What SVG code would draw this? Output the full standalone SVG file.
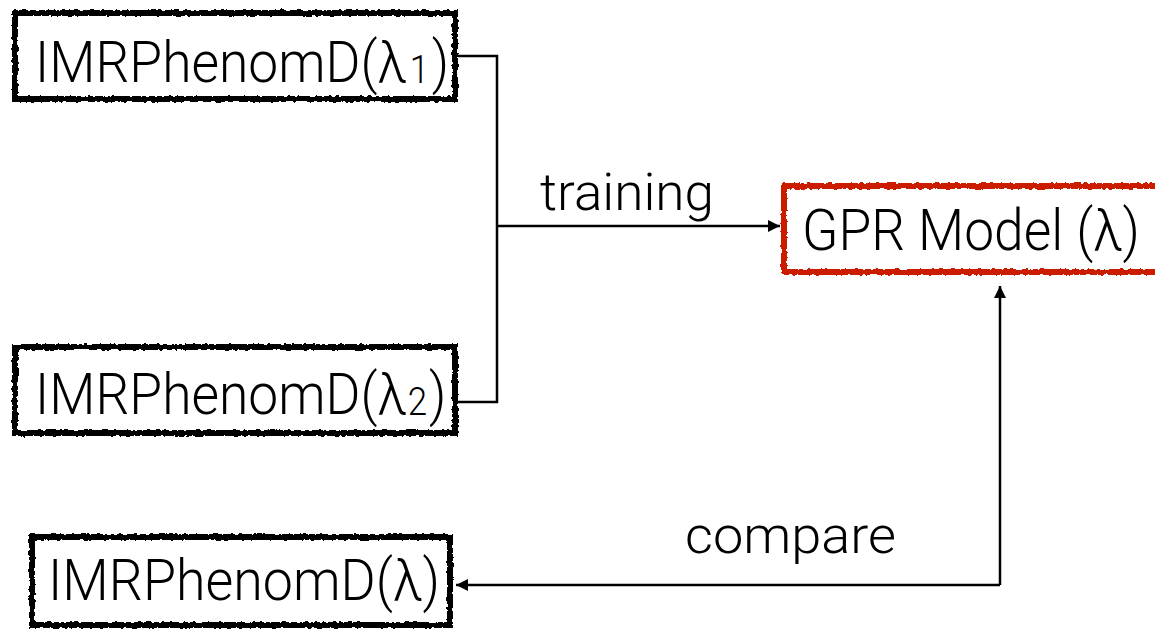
<svg xmlns="http://www.w3.org/2000/svg" width="1155" height="629" viewBox="0 0 1155 629">
<defs>
<filter id="rough" x="-5%" y="-10%" width="110%" height="120%">
<feTurbulence type="fractalNoise" baseFrequency="0.25" numOctaves="2" seed="3" result="n"/>
<feDisplacementMap in="SourceGraphic" in2="n" scale="4" xChannelSelector="R" yChannelSelector="G"/>
</filter>
<marker id="arrh" viewBox="0 0 10 10" refX="10" refY="5" markerWidth="14" markerHeight="12" orient="auto" markerUnits="userSpaceOnUse">
<path d="M0,0 L10,5 L0,10 z" fill="#000"/>
</marker>
</defs>
<style>
.box{fill:#fff;stroke:#000;stroke-width:6;filter:url(#rough)}
.red{stroke:#cc1f00}
.lbl{font-family:Roboto,"Liberation Sans",Arial,sans-serif;font-size:58px;fill:#000;font-weight:300}
.sub{font-size:38px}
.edge{font-family:Roboto,"Liberation Sans",Arial,sans-serif;font-size:52px;fill:#000;font-weight:300}
.ln{fill:none;stroke:#000;stroke-width:2.5}
</style>
<rect width="1155" height="629" fill="#fff"/>
<g id="connectors">
<path class="ln" d="M458,56 H497 V402 H458"/>
<path class="ln" d="M497,226 H780" marker-end="url(#arrh)"/>
<path class="ln" d="M1000,585 H456" marker-end="url(#arrh)"/>
<path class="ln" d="M1000,585 V286" marker-end="url(#arrh)"/>
<text class="edge" x="540" y="210" textLength="174" lengthAdjust="spacingAndGlyphs">training</text>
<text class="edge" x="685" y="553" textLength="211" lengthAdjust="spacingAndGlyphs">compare</text>
</g>
<g id="node-l1">
<rect class="box" x="15" y="13" width="440" height="86"/>
<text class="lbl" transform="matrix(0.92 0 0 1 35 82)" x="0" y="0">IMRPhenomD(λ<tspan class="sub" dx="3" dy="1">1</tspan><tspan dx="3" dy="-1">)</tspan></text>
</g>
<g id="node-l2">
<rect class="box" x="15" y="347" width="440" height="86"/>
<text class="lbl" transform="matrix(0.92 0 0 1 35 414)" x="0" y="0">IMRPhenomD(λ<tspan class="sub" dx="1" dy="1">2</tspan><tspan dx="2" dy="-1">)</tspan></text>
</g>
<g id="node-l">
<rect class="box" x="32" y="537" width="418" height="88"/>
<text class="lbl" x="48" y="600" textLength="392" lengthAdjust="spacingAndGlyphs">IMRPhenomD(λ)</text>
</g>
<g id="node-gpr">
<rect class="box red" x="784" y="186" width="390" height="86"/>
<text class="lbl" x="802" y="250" textLength="338" lengthAdjust="spacingAndGlyphs">GPR Model (λ)</text>
</g>
</svg>
